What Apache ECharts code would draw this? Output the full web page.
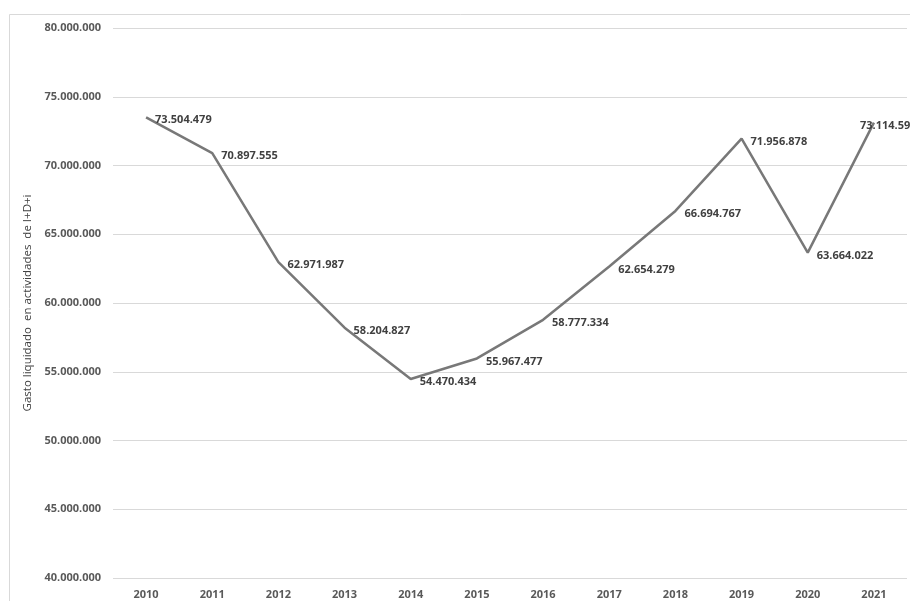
<!DOCTYPE html>
<html>
<head>
<meta charset="utf-8">
<script src="https://cdn.jsdelivr.net/npm/echarts@6/dist/echarts.min.js"></script>
<style>
html,body{margin:0;padding:0;background:#fff;}
#c{width:910px;height:601px;}
</style>
</head>
<body>
<div id="c"></div>
<script>
const years = ['2010','2011','2012','2013','2014','2015','2016','2017','2018','2019','2020','2021'];
const gasto = [73504479,70897555,62971987,58204827,54470434,55967477,58777334,62654279,66694767,71956878,63664022,73114590];
const yAxisTitle = 'Gasto liquidado  en actividades  de I+D+i';

function fmt(v){ return String(Math.round(v)).replace(/\B(?=(\d{3})+(?!\d))/g, '.'); }

const lastIdx = gasto.length - 1;

const chart = echarts.init(document.getElementById('c'), null, {renderer:'canvas'});
chart.setOption({
  animation:false,
  backgroundColor:'#fff',
  textStyle:{fontFamily:'Open Sans'},
  graphic:[{
    type:'rect', silent:true, z:-10,
    shape:{x:9.5,y:14.5,width:1000,height:1000},
    style:{fill:'none',stroke:'#d9d9d9',lineWidth:1}
  }],
  grid:{left:113,right:3,top:28,bottom:23,containLabel:false},
  xAxis:{
    type:'category',
    data:years,
    boundaryGap:true,
    axisLine:{show:false},
    axisTick:{show:false},
    axisLabel:{color:'#595959',fontWeight:'bold',fontSize:11,margin:11,fontFamily:'Open Sans'}
  },
  yAxis:{
    type:'value',
    min:40000000,max:80000000,interval:5000000,
    name:yAxisTitle,
    nameLocation:'middle',
    nameGap:66,
    nameTextStyle:{color:'#404040',fontSize:11.5,fontFamily:'Open Sans'},
    axisLine:{show:false},
    axisTick:{show:false},
    splitLine:{lineStyle:{color:'#d9d9d9',width:1}},
    axisLabel:{color:'#595959',fontWeight:'bold',fontSize:11,margin:12,formatter:fmt,fontFamily:'Open Sans'}
  },
  series:[{
    type:'line',
    data:gasto,
    symbol:'circle',
    symbolSize:2,
    showSymbol:true,
    showAllSymbol:true,
    itemStyle:{color:'rgba(118,118,118,0)',borderWidth:0},
    lineStyle:{color:'#787878',width:2.5},
    label:{
      show:true,
      position:'right',
      distance:6,
      color:'#404040',
      fontWeight:'bold',
      fontSize:11,
      fontFamily:'Open Sans',
      formatter:function(p){ return fmt(p.value); }
    },
    labelLayout:function(p){
      if (p.dataIndex === lastIdx) return {dx:-21, dy:3, hideOverlap:false};
      return {dx:2, dy:3, hideOverlap:false};
    },
    clip:false
  }]
});
</script>
</body>
</html>
